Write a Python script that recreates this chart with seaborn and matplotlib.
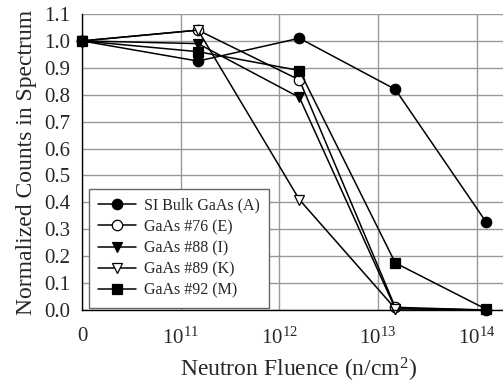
import matplotlib
matplotlib.use('Agg')
import matplotlib.pyplot as plt
import numpy as np
import pandas as pd
import seaborn as sns

# fluence points (n/cm^2); 0 is drawn at the 10^10 position
fluence = [0, 1.5e11, 1.6e12, 1.5e13, 1.25e14]
tick_labels = ['0', '$\\mathregular{10^{11}}$', '$\\mathregular{10^{12}}$',
               '$\\mathregular{10^{13}}$', '$\\mathregular{10^{14}}$']

labels = ['SI Bulk GaAs (A)', 'GaAs #76 (E)', 'GaAs #88 (I)', 'GaAs #89 (K)', 'GaAs #92 (M)']
sample_a = [1.00, 0.925, 1.01, 0.82, 0.327]
sample_e = [1.00, 1.04, 0.855, 0.01, 0.0]
sample_i = [1.00, 0.99, 0.79, 0.005, 0.0]
sample_k = [1.00, 1.04, 0.41, 0.005, 0.0]
sample_m = [1.00, 0.96, 0.89, 0.175, 0.003]

sns.set_style('white')
plt.rcParams['font.family'] = ['Liberation Serif', 'DejaVu Serif']
plt.rcParams['mathtext.fontset'] = 'custom'
plt.rcParams['mathtext.rm'] = 'Liberation Serif'

xpos = [10 if f == 0 else np.log10(f) for f in fluence]

fig = plt.figure(figsize=(5.03, 3.85), dpi=100)
ax = fig.add_axes([82 / 503, 75 / 385, 434 / 503, 296 / 385])

styles = [('o', 'black'), ('o', 'white'), ('v', 'black'), ('v', 'white'), ('s', 'black')]
series = [sample_a, sample_e, sample_i, sample_k, sample_m]
for lab, vals, (mk, fc) in zip(labels, series, styles):
  df = pd.DataFrame({'x': xpos, 'y': vals})
  sns.lineplot(data=df, x='x', y='y', ax=ax, sort=False, color='black', lw=1.1,
               marker=mk, markersize=7.5 if mk != 's' else 6.5, markerfacecolor=fc,
               markeredgecolor='black', markeredgewidth=0.9, label=lab,
               clip_on=False, zorder=3)

ax.set_xlim(10, 14.4)
ax.set_ylim(0, 1.1)
ax.set_xticks([10, 11, 12, 13, 14])
ax.set_xticklabels(tick_labels)
ax.set_yticks(np.arange(0, 1.11, 0.1))
ax.set_yticklabels(['%.1f' % v for v in np.arange(0, 1.11, 0.1)])
ax.grid(True, color='#999999', lw=1)
ax.tick_params(axis='both', direction='inout', length=7, width=1, color='black',
               labelsize=15, pad=5)
ax.tick_params(axis='x', pad=9)
for s in ['top', 'right']:
  ax.spines[s].set_visible(False)
for s in ['left', 'bottom']:
  ax.spines[s].set_color('black')
  ax.spines[s].set_linewidth(1)
  ax.spines[s].set_zorder(4)

ax.set_xlabel('Neutron Fluence (n/cm$\\mathregular{^2}$)', fontsize=17, labelpad=5)
ax.set_ylabel('Normalized Counts in Spectrum', fontsize=17, labelpad=5)

leg = ax.legend(loc='upper left', bbox_to_anchor=(89 / 503, 1 - 189 / 385),
                bbox_transform=fig.transFigure, fontsize=11.5,
                frameon=True, fancybox=False, framealpha=1, edgecolor='#666666',
                handlelength=2.4, labelspacing=0.33, borderpad=0.55,
                handletextpad=0.5, borderaxespad=0)
leg.get_frame().set_linewidth(1)
leg.set_zorder(5)

fig.savefig('out.png', dpi=100)
